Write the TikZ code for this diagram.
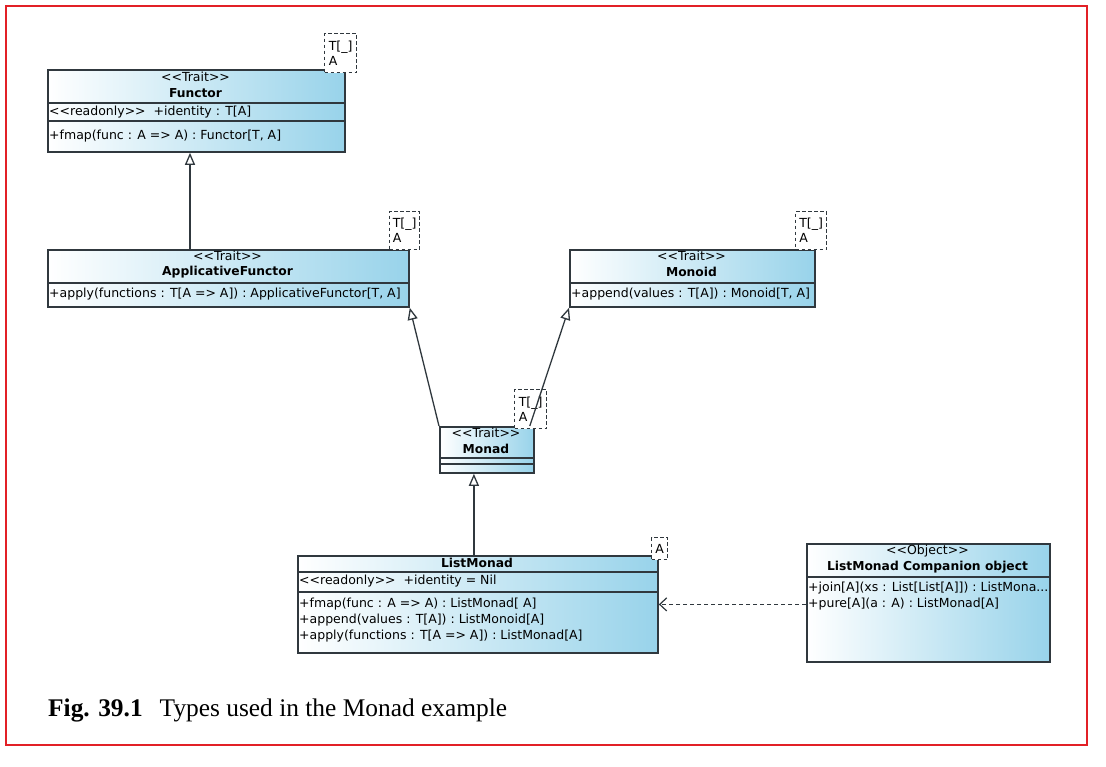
\documentclass[tikz,border=0pt]{standalone}
\usepackage{fontspec}
\setmainfont{Liberation Serif}
\newfontfamily\umlfont{DejaVu Sans}
\usetikzlibrary{arrows.meta}
\definecolor{umlblue}{RGB}{152,211,234}
\definecolor{umledge}{RGB}{48,56,62}
\definecolor{framered}{RGB}{226,32,38}
\begin{document}
\begin{tikzpicture}[x=1pt,y=-1pt,
  every node/.style={font=\umlfont\fontsize{12.5}{15}\selectfont, text=black},
  umlbox/.style={draw=umledge, line width=1.8pt, left color=white, right color=umlblue,
    shading angle=90, inner sep=0pt, anchor=north west},
  sep/.style={draw=umledge, line width=1.5pt},
  centred/.style={anchor=center, inner sep=0pt},
  boldname/.style={anchor=center, inner sep=0pt, font=\umlfont\bfseries\fontsize{12.3}{15}\selectfont},
  member/.style={anchor=west, inner sep=0pt},
  tparam/.style={draw=umledge, line width=1.3pt, dash pattern=on 3.5pt off 2.5pt, fill=white,
    anchor=north west, align=left, inner sep=2pt, text depth=0pt},
  inherit/.style={draw=umledge, line width=1.3pt, -{Triangle[open, length=12pt, width=10pt]}},
  depend/.style={draw=umledge, line width=1.2pt, dash pattern=on 4pt off 3pt,
    -{Straight Barb[length=7pt, width=13pt]}}
]
\useasboundingbox (0,0) rectangle (1106,766);
\draw[framered, line width=2.2pt] (6,6) rectangle (1087,745);

% Functor
\node[umlbox, minimum width=297pt, minimum height=82pt] (functor) at (47,69) {};
\node[centred] (functor-st) at (195.5,77) {<<Trait>>};
\node[boldname] (functor-nm) at (195.5,93) {Functor};
\draw[sep] (47,103) -- (344,103);
\draw[sep] (47,121) -- (344,121);
\node[member] (functor-at) at (49,112) {<<readonly>>\ \ +identity : T[A]};
\node[member] (functor-m1) at (49,136) {+fmap(func : A => A) : Functor[T, A]};
\node[tparam, minimum width=32pt, minimum height=39pt] (functor-tp) at (324,33) {T[\_]\\A};

% ApplicativeFunctor
\node[umlbox, minimum width=361pt, minimum height=57pt] (applicative) at (47,249) {};
\node[centred] (applicative-st) at (227.5,256) {<<Trait>>};
\node[boldname] (applicative-nm) at (227.5,272) {ApplicativeFunctor};
\draw[sep] (47,283) -- (408,283);
\node[member] (applicative-m1) at (49,294) {+apply(functions : T[A => A]) : ApplicativeFunctor[T, A]};
\node[tparam, minimum width=30pt, minimum height=38pt] (applicative-tp) at (389,211) {T[\_]\\A};

% Monoid
\node[umlbox, minimum width=245pt, minimum height=57pt] (monoid) at (569,249) {};
\node[centred] (monoid-st) at (691.5,256) {<<Trait>>};
\node[boldname] (monoid-nm) at (691.5,272) {Monoid};
\draw[sep] (569,283) -- (814,283);
\node[member] (monoid-m1) at (571,294) {+append(values : T[A]) : Monoid[T, A]};
\node[tparam, minimum width=31pt, minimum height=38pt] (monoid-tp) at (795,211) {T[\_]\\A};

% Monad
\node[umlbox, minimum width=94pt, minimum height=46pt] (monad) at (439,426) {};
\node[centred] (monad-st) at (486,433) {<<Trait>>};
\node[boldname] (monad-nm) at (486,449) {Monad};
\draw[sep] (439,458) -- (533,458);
\draw[sep] (439,464) -- (533,464);
\node[tparam, minimum width=32pt, minimum height=39pt] (monad-tp) at (514,389) {T[\_]\\A};

% ListMonad
\node[umlbox, minimum width=360pt, minimum height=97pt] (listmonad) at (297,555) {};
\node[boldname] (listmonad-nm) at (477,563) {ListMonad};
\draw[sep] (297,572) -- (657,572);
\node[member] (listmonad-at) at (299,581) {<<readonly>>\ \ +identity = Nil};
\draw[sep] (297,592) -- (657,592);
\node[member] (listmonad-m1) at (299,604) {+fmap(func : A => A) : ListMonad[ A]};
\node[member] (listmonad-m2) at (299,620) {+append(values : T[A]) : ListMonoid[A]};
\node[member] (listmonad-m3) at (299,636) {+apply(functions : T[A => A]) : ListMonad[A]};
\node[tparam, minimum width=16pt, minimum height=22pt, inner sep=1pt] (listmonad-tp) at (651,537) {A};

% ListMonad companion object
\node[umlbox, minimum width=243pt, minimum height=118pt] (companion) at (806,543) {};
\node[centred] (companion-st) at (927.5,551) {<<Object>>};
\node[boldname] (companion-nm) at (927.5,567) {ListMonad Companion object};
\draw[sep] (806,577) -- (1049,577);
\node[member] (companion-m1) at (808,588) {+join[A](xs : List[List[A]]) : ListMona...};
\node[member] (companion-m2) at (808,604) {+pure[A](a : A) : ListMonad[A]};

% Relations
\draw[inherit] ([xshift=143pt]applicative.north west) -- ([xshift=143pt]functor.south west);
\draw[inherit] (monad.north west) -- (applicative.south east);
\draw[inherit] ([xshift=-5pt]monad.north east) -- (monoid.south west);
\coordinate (monad-foot) at ([xshift=-13pt]monad.south);
\draw[inherit] (listmonad.north -| monad-foot) -- (monad-foot);
\draw[depend] (companion.west |- listmonad.east) -- (listmonad.east);

% Caption
\node[anchor=base west, inner sep=0pt, text=black, font=\rmfamily\fontsize{25.4}{30}\selectfont]
  (caption) at (48,716) {\textbf{Fig. 39.1}\hspace{17pt}Types used in the Monad example};
\end{tikzpicture}
\end{document}
